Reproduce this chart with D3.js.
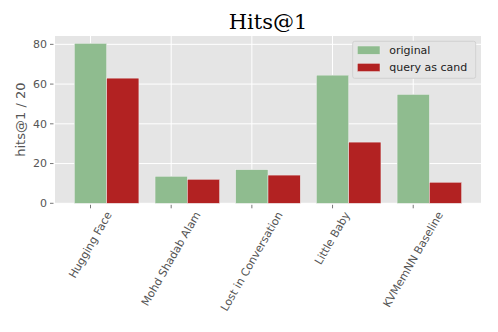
<!DOCTYPE html>
<html>
<head>
    <script src="https://d3js.org/d3.v7.min.js"></script>
    <style>
        body { margin: 0; background: #fff; }
        text { font-family: "DejaVu Sans", sans-serif; }
        .title { font-family: "DejaVu Serif", serif; }
    </style>
</head>
<body>
    <div id="chart"></div>
    <script>
        const categories = ["Hugging Face", "Mohd Shadab Alam", "Lost in Conversation", "Little Baby", "KVMemNN Baseline"];
        const original = [80.5, 13.6, 16.9, 64.5, 54.8];
        const queryAsCand = [63.0, 12.1, 14.2, 30.8, 10.6];
        const yTicks = [0, 20, 40, 60, 80];
        const seriesNames = ["original", "query as cand"];
        const colors = ["#8fbc8f", "#b22222"];

        const width = 498, height = 332;
        const plotLeft = 55, plotRight = 481, plotTop = 36, plotBottom = 203.3;

        const svg = d3.select("#chart").append("svg")
            .attr("width", width)
            .attr("height", height);

        const x = d3.scaleLinear().domain([-0.44, 4.84]).range([plotLeft, plotRight]);
        const y = d3.scaleLinear().domain([0, 84.2]).range([plotBottom, plotTop]);
        const barW = 0.4;

        // panel
        svg.append("rect")
            .attr("x", plotLeft).attr("y", plotTop)
            .attr("width", plotRight - plotLeft).attr("height", plotBottom - plotTop)
            .attr("fill", "#e5e5e5");

        // grid
        svg.selectAll(".hgrid").data(yTicks).enter().append("line")
            .attr("x1", plotLeft).attr("x2", plotRight)
            .attr("y1", d => y(d)).attr("y2", d => y(d))
            .attr("stroke", "#fff").attr("stroke-width", 1);
        svg.selectAll(".vgrid").data(categories).enter().append("line")
            .attr("x1", (d, i) => x(i)).attr("x2", (d, i) => x(i))
            .attr("y1", plotTop).attr("y2", plotBottom)
            .attr("stroke", "#fff").attr("stroke-width", 1);

        // bars: original centred on the tick, second series just right of it
        [original, queryAsCand].forEach((vals, s) => {
            svg.selectAll(".bar" + s).data(vals).enter().append("rect")
                .attr("x", (d, i) => x(i - barW / 2 + s * barW))
                .attr("y", d => y(d))
                .attr("width", x(barW) - x(0))
                .attr("height", d => y(0) - y(d))
                .attr("fill", colors[s])
                .attr("stroke", "#eeeeee")
                .attr("stroke-width", 0.5);
        });

        // y ticks
        svg.selectAll(".ytick").data(yTicks).enter().append("line")
            .attr("x1", plotLeft - 5).attr("x2", plotLeft - 1.5)
            .attr("y1", d => y(d)).attr("y2", d => y(d))
            .attr("stroke", "#555").attr("stroke-width", 0.8);
        svg.selectAll(".ylab").data(yTicks).enter().append("text")
            .attr("x", plotLeft - 8).attr("y", d => y(d))
            .attr("dy", "0.35em")
            .attr("text-anchor", "end")
            .attr("font-size", 11)
            .attr("fill", "#555")
            .text(d => d);

        // x ticks
        svg.selectAll(".xtick").data(categories).enter().append("line")
            .attr("x1", (d, i) => x(i)).attr("x2", (d, i) => x(i))
            .attr("y1", plotBottom + 1.5).attr("y2", plotBottom + 5)
            .attr("stroke", "#555").attr("stroke-width", 0.8);

        const fs = 11, ang = 60 * Math.PI / 180, labTop = 210;
        svg.selectAll(".xlab").data(categories).enter().append("text")
            .attr("font-size", fs)
            .attr("fill", "#555")
            .attr("text-anchor", "middle")
            .attr("dominant-baseline", "central")
            .text(d => d)
            .each(function (d, i) {
                const L = this.getComputedTextLength();
                const bh = L * Math.sin(ang) + fs * Math.cos(ang);
                const cx = x(i), cy = labTop + bh / 2;
                d3.select(this)
                    .attr("x", cx).attr("y", cy)
                    .attr("transform", `rotate(-60,${cx},${cy})`);
            });

        // y axis label
        svg.append("text")
            .attr("transform", `translate(20,${(plotTop + plotBottom) / 2}) rotate(-90)`)
            .attr("text-anchor", "middle")
            .attr("dominant-baseline", "central")
            .attr("font-size", 13)
            .attr("fill", "#555")
            .text("hits@1 / 20");

        // title
        svg.append("text")
            .attr("class", "title")
            .attr("x", (plotLeft + plotRight) / 2).attr("y", 29)
            .attr("text-anchor", "middle")
            .attr("font-size", 21)
            .attr("fill", "#000")
            .text("Hits@1");

        // legend
        const lg = svg.append("g");
        lg.append("rect")
            .attr("x", 352.7).attr("y", 41.3)
            .attr("width", 123).attr("height", 37)
            .attr("rx", 2)
            .attr("fill", "#e5e5e5")
            .attr("stroke", "#cccccc")
            .attr("stroke-width", 0.8);
        seriesNames.forEach((name, s) => {
            const yy = 46 + s * 17.3;
            lg.append("rect")
                .attr("x", 357.3).attr("y", yy)
                .attr("width", 22.7).attr("height", 8.3)
                .attr("fill", colors[s])
                .attr("stroke", "#eeeeee").attr("stroke-width", 0.5);
            lg.append("text")
                .attr("x", 389.3).attr("y", yy + 4.2)
                .attr("dy", "0.35em")
                .attr("font-size", 11)
                .attr("fill", "#222")
                .text(name);
        });
    </script>
</body>
</html>
